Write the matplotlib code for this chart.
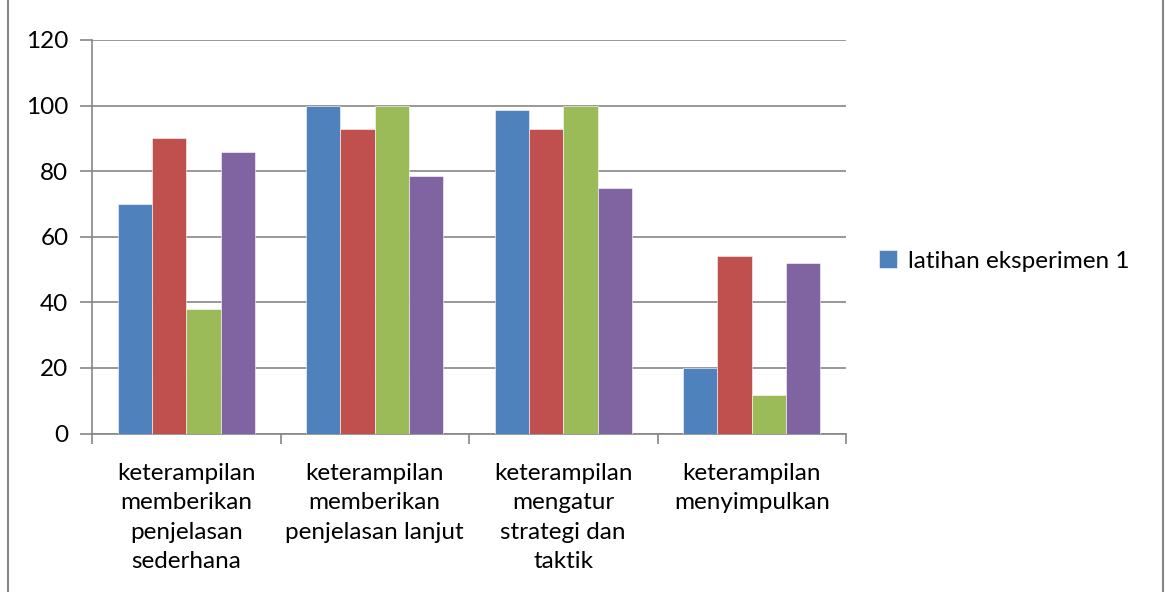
import numpy as np
import matplotlib
matplotlib.use("Agg")
import matplotlib.pyplot as plt
from matplotlib.patches import Rectangle

plt.rcParams["font.family"] = ["Lato", "DejaVu Sans"]

# Data
categories = [
    "keterampilan\nmemberikan\npenjelasan\nsederhana",
    "keterampilan\nmemberikan\npenjelasan lanjut",
    "keterampilan\nmengatur\nstrategi dan\ntaktik",
    "keterampilan\nmenyimpulkan",
]
seri_1 = [70.0, 100.0, 98.6, 20.1]
seri_2 = [90.0, 92.8, 92.8, 54.2]
seri_3 = [37.9, 100.0, 100.0, 11.6]
seri_4 = [85.7, 78.5, 74.9, 52.0]
legend_label = "latihan eksperimen 1"

colors = ["#4F81BD", "#C0504D", "#9BBB59", "#8064A2"]
grid_col = "#868686"
fs = 17.5

fig = plt.figure(figsize=(11.66, 5.92), dpi=100)
ax = fig.add_axes([92 / 1166, 1 - 433.5 / 592, (846 - 92) / 1166, (433.5 - 40) / 592])

x = np.arange(len(categories))
bw = 0.182
series = [seri_1, seri_2, seri_3, seri_4]
bars = []
for i, (vals, c) in enumerate(zip(series, colors)):
    b = ax.bar(x + (i - 1.5) * bw, vals, width=bw, color=c, zorder=3,
               edgecolor="white", linewidth=0.4)
    bars.append(b)

ax.set_xlim(-0.5, len(categories) - 0.5)
ax.set_ylim(0, 120)
ax.set_yticks(range(0, 121, 20))
ax.yaxis.grid(True, color=grid_col, linewidth=1.2, zorder=0)
ax.set_axisbelow(True)

for s in ["top", "right"]:
    ax.spines[s].set_visible(False)
ax.spines["left"].set_color(grid_col)
ax.spines["bottom"].set_color(grid_col)
ax.spines["left"].set_linewidth(1.2)
ax.spines["bottom"].set_linewidth(1.2)

# ticks at category boundaries
ax.set_xticks(np.arange(-0.5, len(categories), 1.0))
ax.set_xticklabels([])
ax.set_xticks(x, minor=True)
ax.set_xticklabels(categories, minor=True, fontsize=fs, linespacing=1.5,
                   va="top")
ax.tick_params(axis="x", which="major", length=7, color=grid_col, width=1.2)
ax.tick_params(axis="x", which="minor", length=0, pad=21)
ax.tick_params(axis="y", length=9, color=grid_col, width=1.2, labelsize=fs, pad=8)

# legend shows only first series
ax.legend([bars[0]], [legend_label], loc="center left",
          bbox_to_anchor=(1.015, 0.438), frameon=False, fontsize=fs,
          handlelength=0.75, handleheight=0.75, handletextpad=0.45)

# outer chart border
fig.patches.append(Rectangle((8 / 1166, -0.01), (1163 - 8) / 1166, 1.2,
                             transform=fig.transFigure, fill=False,
                             edgecolor=grid_col, linewidth=1.5))

fig.savefig("out.png", dpi=100)
